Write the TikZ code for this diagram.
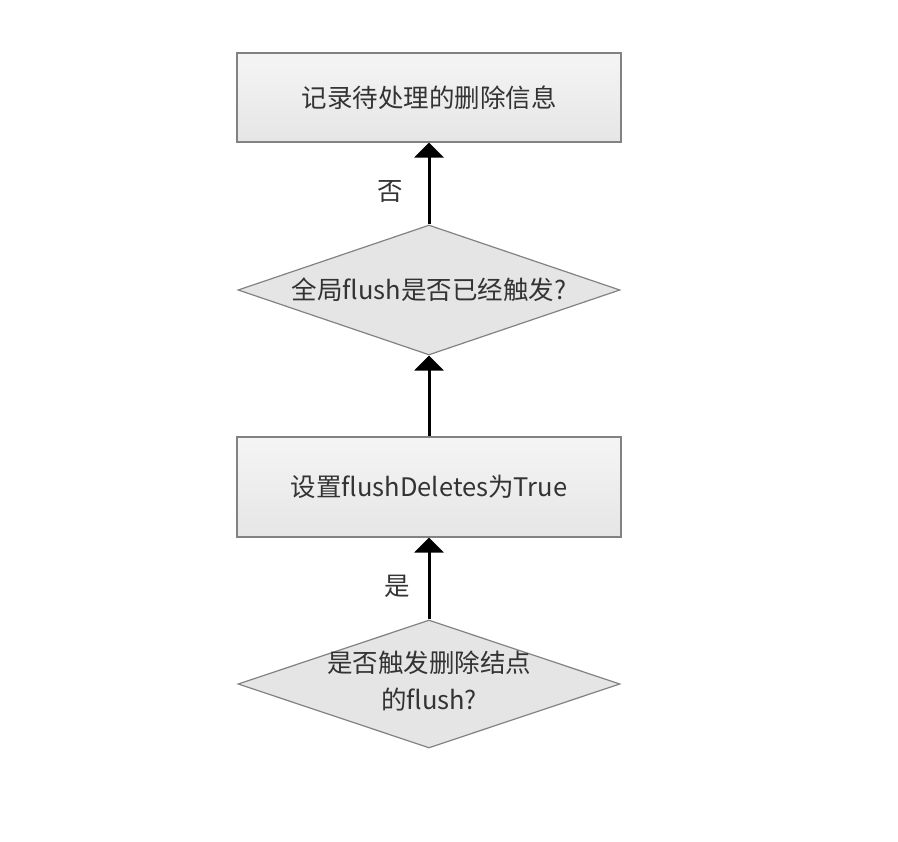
\documentclass[tikz,border=0pt]{standalone}
\usepackage{fontspec}
\setmainfont{Noto Sans CJK SC}
\usetikzlibrary{shapes.geometric,arrows.meta}
\definecolor{edgegray}{HTML}{828282}
\definecolor{txtgray}{HTML}{333333}
\tikzset{
  procbox/.style={draw=edgegray,line width=1.2pt,top color=black!4,bottom color=black!10,
    minimum width=384pt,minimum height=#1,inner sep=0pt,text=txtgray},
  decision/.style={diamond,draw=edgegray,line width=1.2pt,fill=black!10,
    minimum width=382pt,minimum height=#1,inner sep=0pt,text=txtgray},
  flowarr/.style={line width=3pt,-{Triangle[width=29pt,length=15pt]}},
}
\begin{document}
\begin{tikzpicture}[x=1pt,y=-1pt,font=\fontsize{25.5}{37}\selectfont]
\useasboundingbox (0,0) rectangle (898,842);
\node[procbox=89pt] (rec) at (429,97.5) {记录待处理的删除信息};
\node[decision=130pt] (glob) at (429,290) {\makebox[0pt]{全局flush是否已经触发?}};
\node[procbox=100pt] (setflag) at (429,487) {设置flushDeletes为True};
\node[decision=128pt] (trig) at (429,684) {\makebox[0pt]{\begin{tabular}{@{}c@{}}是否触发删除结点\\的flush?\end{tabular}}};
\draw[flowarr] (glob) -- node[pos=0.4,xshift=-39pt,text=txtgray] {否} (rec);
\draw[flowarr] (setflag) -- (glob);
\draw[flowarr] (trig) -- node[pos=0.4,xshift=-32pt,text=txtgray] {是} (setflag);
\end{tikzpicture}
\end{document}
